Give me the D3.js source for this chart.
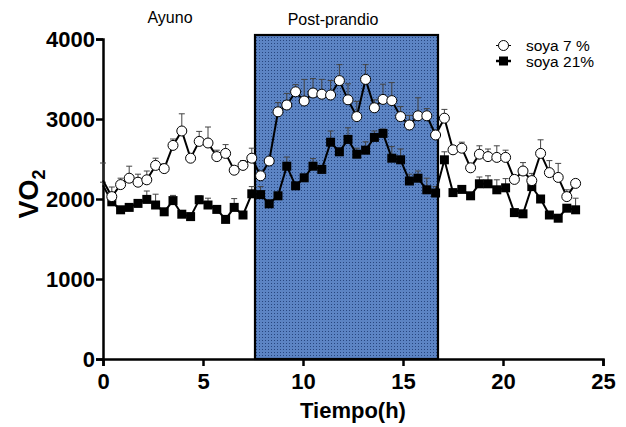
<!DOCTYPE html>
<html>
<head>
<meta charset="utf-8">
<script src="https://cdn.jsdelivr.net/npm/d3@7"></script>
<style>
  body { margin: 0; background: #fff; }
  svg text { font-family: "Liberation Sans", Arial, sans-serif; }
</style>
</head>
<body>
<div id="chart"></div>
<script>
// tiempo (h)
var tiempo = [0, 0.44, 0.88, 1.31, 1.75, 2.19, 2.63, 3.06, 3.50, 3.94,
  4.38, 4.81, 5.25, 5.69, 6.13, 6.56, 7.00, 7.44, 7.88, 8.31,
  8.75, 9.19, 9.63, 10.06, 10.50, 10.94, 11.38, 11.82, 12.25, 12.69,
  13.13, 13.57, 14.00, 14.44, 14.88, 15.32, 15.75, 16.19, 16.63, 17.07,
  17.50, 17.94, 18.38, 18.82, 19.25, 19.69, 20.13, 20.57, 21.00, 21.44,
  21.88, 22.32, 22.76, 23.19, 23.63];

var soya7 = [2230, 2030, 2180, 2260, 2210, 2240, 2420, 2380, 2670, 2850,
  2510, 2720, 2700, 2530, 2570, 2360, 2420, 2510, 2290, 2475,
  3090, 3175, 3340, 3225, 3325, 3310, 3300, 3480, 3240, 3030,
  3495, 3140, 3245, 3230, 3030, 2925, 3040, 3040, 2800, 3010,
  2615, 2635, 2390, 2560, 2530, 2520, 2520, 2245, 2350, 2230,
  2570, 2330, 2270, 2030, 2195];
var soya7err = [220, 120, 80, 150, 100, 110, 90, 60, 80, 215,
  0, 125, 200, 80, 110, 0, 60, 125, 50, 40,
  115, 145, 90, 270, 180, 185, 180, 200, 200, 190,
  185, 100, 190, 225, 125, 120, 225, 90, 60, 110,
  0, 75, 0, 105, 95, 145, 90, 0, 105, 90,
  170, 150, 175, 85, 0];

var soya21 = [2170, 1965, 1865, 1895, 1945, 1995, 1925, 1840, 1980, 1810,
  1780, 1990, 1925, 1870, 1745, 1895, 1800, 2065, 2055, 1940,
  2040, 2410, 2165, 2265, 2410, 2370, 2710, 2590, 2745, 2560,
  2610, 2770, 2820, 2510, 2490, 2225, 2260, 2115, 2075, 2490,
  2080, 2120, 2040, 2190, 2190, 2115, 2140, 1830, 1815, 2155,
  2000, 1800, 1760, 1885, 1865];
var soya21err = [40, 40, 30, 40, 40, 105, 135, 40, 65, 40,
  30, 50, 85, 40, 30, 110, 40, 90, 100, 40,
  40, 115, 40, 40, 95, 40, 140, 40, 145, 75,
  105, 80, 55, 145, 135, 85, 90, 145, 80, 100,
  40, 0, 40, 85, 100, 125, 115, 40, 0, 0,
  0, 40, 0, 40, 145];

var xTicks = [0, 5, 10, 15, 20, 25];
var yTicks = [0, 1000, 2000, 3000, 4000];
var periodo = [7.6, 16.75];   // post-prandio
var serieNombres = ["soya 7 %", "soya 21%"];

var W = 626, H = 427;
var x = d3.scaleLinear().domain([0, 25]).range([103, 603]);
var y = d3.scaleLinear().domain([0, 4000]).range([359, 39]);

var svg = d3.select("#chart").append("svg")
  .attr("width", W).attr("height", H);

// pattern for the shaded box
var defs = svg.append("defs");
var pat = defs.append("pattern")
  .attr("id", "dots").attr("patternUnits", "userSpaceOnUse")
  .attr("width", 3).attr("height", 3);
pat.append("rect").attr("width", 3).attr("height", 3).attr("fill", "#5c84c4");
pat.append("rect").attr("x", 1).attr("y", 1).attr("width", 1).attr("height", 1).attr("fill", "#27467f");

svg.append("rect")
  .attr("x", x(periodo[0]))
  .attr("y", y(4050))
  .attr("width", x(periodo[1]) - x(periodo[0]))
  .attr("height", y(0) - y(4050))
  .attr("fill", "url(#dots)")
  .attr("stroke", "#000")
  .attr("stroke-width", 2.2);

// axes
var xAxis = d3.axisBottom(x).tickValues(xTicks).tickSize(7).tickFormat(d3.format("d"));
var yAxis = d3.axisLeft(y).tickValues(yTicks).tickSize(7).tickFormat(d3.format("d"));

var gx = svg.append("g").attr("transform", "translate(0," + y(0) + ")").call(xAxis);
var gy = svg.append("g").attr("transform", "translate(" + x(0) + ",0)").call(yAxis);

[gx, gy].forEach(function(g) {
  g.select(".domain").attr("stroke", "#000").attr("stroke-width", 2.5);
  g.selectAll(".tick line").attr("stroke", "#000").attr("stroke-width", 2.5);
  g.selectAll(".tick text")
    .attr("fill", "#000")
    .style("font-size", "22px")
    .style("font-weight", "bold");
});
gx.selectAll(".tick text").attr("dy", "0.92em");
gy.selectAll(".tick text").attr("x", -8);

// series (first point sits on the y axis, its marker is hidden there)
function drawSeries(vals, errs, filled) {
  var g = svg.append("g");
  g.selectAll("g.err").data(vals).enter().append("g")
    .each(function(d, i) {
      if (!errs[i]) return;
      var sel = d3.select(this);
      var cx = x(tiempo[i]);
      sel.append("line")
        .attr("x1", cx).attr("x2", cx)
        .attr("y1", y(d)).attr("y2", y(d + errs[i]))
        .attr("stroke", "#444").attr("stroke-width", 1);
      sel.append("line")
        .attr("x1", cx - 3).attr("x2", cx + 3)
        .attr("y1", y(d + errs[i])).attr("y2", y(d + errs[i]))
        .attr("stroke", "#444").attr("stroke-width", 1);
    });
  var line = d3.line()
    .x(function(d, i) { return x(tiempo[i]); })
    .y(function(d) { return y(d); });
  g.append("path")
    .attr("d", line(vals))
    .attr("fill", "none")
    .attr("stroke", "#000")
    .attr("stroke-width", 2);
  var pts = vals.map(function(v, i) { return {t: tiempo[i], v: v}; })
    .filter(function(d) { return d.t > 0; });
  if (filled) {
    g.selectAll("rect.pt").data(pts).enter().append("rect")
      .attr("x", function(d) { return x(d.t) - 4.5; })
      .attr("y", function(d) { return y(d.v) - 4.5; })
      .attr("width", 9).attr("height", 9)
      .attr("fill", "#000");
  } else {
    g.selectAll("circle.pt").data(pts).enter().append("circle")
      .attr("cx", function(d) { return x(d.t); })
      .attr("cy", function(d) { return y(d.v); })
      .attr("r", 5)
      .attr("fill", "#fff")
      .attr("stroke", "#000")
      .attr("stroke-width", 1);
  }
}
drawSeries(soya21, soya21err, true);
drawSeries(soya7, soya7err, false);

// labels
svg.append("text").attr("x", 170).attr("y", 23)
  .attr("text-anchor", "middle").style("font-size", "16px").text("Ayuno");
svg.append("text").attr("x", 333).attr("y", 25)
  .attr("text-anchor", "middle").style("font-size", "16px").text("Post-prandio");

svg.append("text").attr("x", 353).attr("y", 418)
  .attr("text-anchor", "middle")
  .style("font-size", "22px").style("font-weight", "bold")
  .text("Tiempo(h)");

var yl = svg.append("text")
  .attr("transform", "translate(38,194) rotate(-90)")
  .attr("text-anchor", "middle")
  .style("font-size", "27px").style("font-weight", "bold");
yl.append("tspan").text("VO");
yl.append("tspan").attr("dy", 7).style("font-size", "18px").text("2");

// legend
var leg = svg.append("g");
var ly = [45.5, 61];
leg.append("line").attr("x1", 496).attr("x2", 511).attr("y1", ly[0]).attr("y2", ly[0])
  .attr("stroke", "#000").attr("stroke-width", 1);
leg.append("circle").attr("cx", 503.5).attr("cy", ly[0]).attr("r", 5)
  .attr("fill", "#fff").attr("stroke", "#000");
leg.append("line").attr("x1", 496).attr("x2", 511).attr("y1", ly[1]).attr("y2", ly[1])
  .attr("stroke", "#000").attr("stroke-width", 2.5);
leg.append("rect").attr("x", 499).attr("y", ly[1] - 4.5).attr("width", 9).attr("height", 9)
  .attr("fill", "#000");
serieNombres.forEach(function(n, i) {
  leg.append("text").attr("x", 526).attr("y", ly[i] + 5.5)
    .style("font-size", "15.5px").text(n);
});
</script>
</body>
</html>
